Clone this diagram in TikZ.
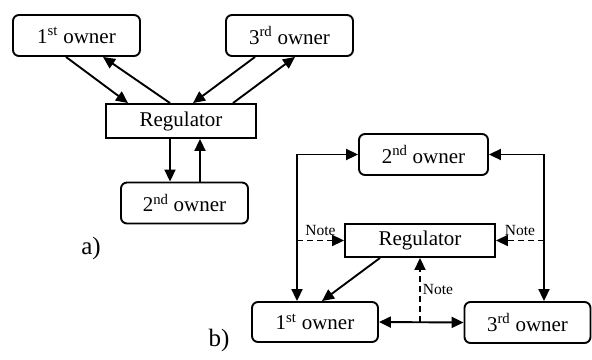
\documentclass[tikz,border=0pt]{standalone}
\usepackage{fontspec}
\setmainfont{Liberation Serif}
\usetikzlibrary{arrows.meta,calc}
\begin{document}
\begin{tikzpicture}[x=1pt,y=-1pt,
  line width=1.9pt,
  >={Triangle[length=12pt,width=11pt]},
  owner/.style={draw,rounded corners=6pt,minimum width=127pt,minimum height=41pt,
    inner sep=0pt,font=\fontsize{21}{25}\selectfont},
  regbox/.style={draw,minimum width=150pt,minimum height=34pt,inner sep=0pt,
    font=\fontsize{21}{25}\selectfont},
  notearrow/.style={->,dash pattern=on 6pt off 4pt},
  notelbl/.style={font=\fontsize{15.5}{17}\selectfont,inner sep=2pt},
  caption/.style={font=\fontsize{25}{29}\selectfont,inner sep=0pt}]
\useasboundingbox (0,0) rectangle (592,359);

% ---- part a ----
\node[owner] (o1a) at (76.5,35.5) {1\textsuperscript{st} owner};
\node[owner] (o3a) at (289.5,35.5) {3\textsuperscript{rd} owner};
\node[regbox] (rega) at (181,121) {Regulator};
\node[owner] (o2a) at (184.5,203) {2\textsuperscript{nd} owner};
\node[caption] (capa) at (91,248) {a)};

\draw[->] ([xshift=-10.5pt]o1a.south) -- ([xshift=-53pt]rega.north);
\draw[->] ([xshift=-11pt]rega.north) -- ([xshift=26.5pt]o1a.south);
\draw[->] ([xshift=-34.5pt]o3a.south) -- ([xshift=12pt]rega.north);
\draw[->] ([xshift=52pt]rega.north) -- ([xshift=5.5pt]o3a.south);
\draw[->] ([xshift=-11pt]rega.south) -- ([xshift=-14.5pt]o2a.north);
\draw[->] ([xshift=15.5pt]o2a.north) -- ([xshift=19pt]rega.south);

% ---- part b ----
\node[owner,minimum width=129pt] (o2b) at (423.5,154.5) {2\textsuperscript{nd} owner};
\node[regbox,minimum height=33pt] (regb) at (420,240.5) {Regulator};
\node[owner,minimum width=126pt,minimum height=40pt] (o1b) at (315,322) {1\textsuperscript{st} owner};
\node[owner,minimum width=126pt] (o3b) at (527.5,322.5) {3\textsuperscript{rd} owner};
\node[caption] (capb) at (219,340) {b)};

\coordinate (lft) at ([xshift=-18pt]o1b.north);
\coordinate (rgt) at ([xshift=16.5pt]o3b.north);
\draw[<->] (lft) |- (o2b.west);
\draw[<->] (rgt) |- (o2b.east);
\draw[->] ([xshift=-40pt]regb.south) -- ([xshift=7pt]o1b.north);
\draw[<->] (o1b.east) -- (o3b.west);

\draw[notearrow] (lft |- regb.west) -- node[notelbl,above,yshift=2pt] {Note} (regb.west);
\draw[notearrow] (rgt |- regb.east) -- node[notelbl,above,yshift=2pt] {Note} (regb.east);
\draw[notearrow] (regb.south |- o1b.east) -- node[notelbl,right] {Note} (regb.south);
\end{tikzpicture}
\end{document}
